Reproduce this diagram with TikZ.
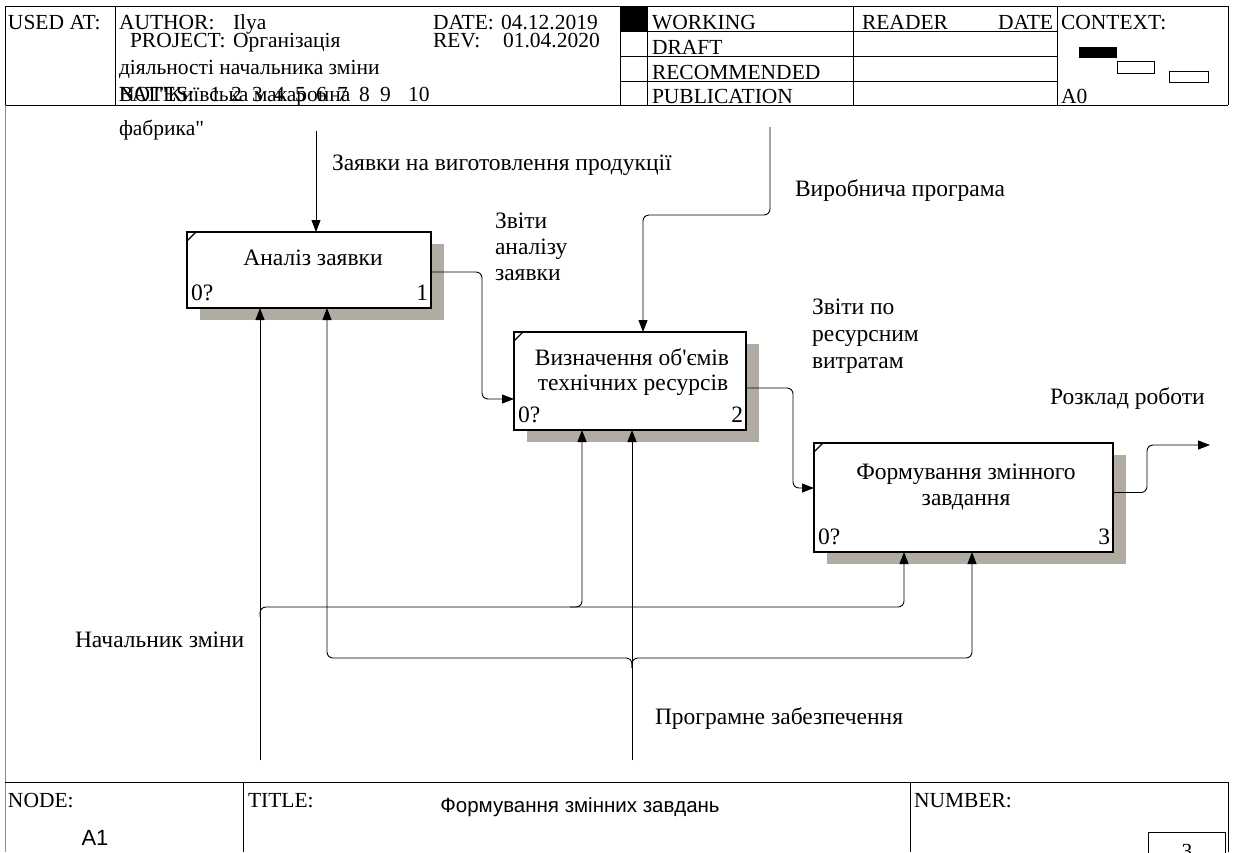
\documentclass[tikz,border=0pt]{standalone}
\usepackage{fontspec}
\setmainfont{Liberation Serif}[Ligatures=TeXOff]
\newfontfamily\arialfont{Liberation Sans}[Ligatures=TeXOff]
\usetikzlibrary{arrows.meta,shadows}

\definecolor{shade}{RGB}{176,172,164}
\definecolor{framegray}{RGB}{140,140,140}

\begin{document}
\begin{tikzpicture}[x=1pt,y=-1pt,
  every node/.style={inner sep=0pt, outer sep=0pt, font=\fontsize{23.5}{26}\selectfont},
  hdr/.style={font=\fontsize{21.5}{24}\selectfont},
  txt/.style={anchor=base west},
  ctxt/.style={anchor=base},
  rtxt/.style={anchor=base east},
  rule/.style={line width=0.9pt},
  box/.style={draw, line width=1.7pt, fill=white,
    general shadow={shadow xshift=13pt, shadow yshift=-12pt, fill=shade}},
  corner/.style={line width=1.3pt},
  conn/.style={line width=0.9pt, rounded corners=6pt},
  arr/.style={conn, -{Triangle[length=12pt,width=9pt]}}
]
\useasboundingbox (0,0) rectangle (1233,852);
\clip (0,0) rectangle (1233,852);
\fill[white] (0,0) rectangle (1233,852);

% ---------- header frame ----------
\draw[rule] (5,6) -- (1228,6);
\draw[rule] (5,105) -- (1228,105);
\draw[rule] (5,6) -- (5,105);
\draw[rule] (1228,6) -- (1228,105);
\draw[rule] (115,6) -- (115,105);
\draw[rule] (620,6) -- (620,105);
\draw[rule] (647,6) -- (647,105);
\draw[rule] (853,6) -- (853,105);
\draw[rule] (1057,6) -- (1057,105);
\draw[rule] (620,31) -- (1057,31);
\draw[rule] (620,56) -- (1057,56);
\draw[rule] (620,81) -- (1057,81);
\fill (620,6) rectangle (647,31);

% context thumbnails
\fill (1079,47) rectangle (1117,58);
\draw[line width=0.8pt] (1117,61) rectangle (1154,73);
\draw[line width=0.8pt] (1169,71) rectangle (1208,82);

% header texts
\begin{scope}[every node/.append style={hdr}]
\node[txt] (usedat) at (8,29) {USED AT:};
\node[txt] (author) at (119,29) {AUTHOR:};
\node[txt] (authorv) at (233,29) {Ilya};
\node[txt] (project) at (130,47) {PROJECT:};
\node[txt] (projectv) at (233,47) {Організація};
\node[txt] (project2) at (119,74) {діяльності начальника зміни};
\node[txt] (notes) at (119,101) {NOTES:};
\foreach \d/\xx in {1/210,2/231,3/252,4/274,5/295,6/316,7/337,8/359,9/380,10/408}
  \node[txt] (note\d) at (\xx,101) {\d};
\node[txt] (project3) at (119,101) {ВАТ"Київська макаронна};
\node[txt] (project4) at (119,135) {фабрика"};
\node[txt] (date) at (433,29) {DATE:};
\node[txt] (datev) at (501,29) {04.12.2019};
\node[txt] (rev) at (433,47) {REV:};
\node[txt] (revv) at (503,47) {01.04.2020};
\node[txt] (working) at (652,29) {WORKING};
\node[txt] (draft) at (652,54) {DRAFT};
\node[txt] (recom) at (652,79) {RECOMMENDED};
\node[txt] (publ) at (652,103) {PUBLICATION};
\node[txt] (reader) at (862,29) {READER};
\node[rtxt] (rdate) at (1053,29) {DATE};
\node[txt] (context) at (1061,29) {CONTEXT:};
\node[txt] (a0) at (1061,103) {A0};
\end{scope}

% ---------- body frame ----------
\draw[rule, framegray] (5,105) -- (5,852);

% ---------- activity boxes ----------
\node[box, minimum width=244pt, minimum height=76pt] (b1) at (309,270) {};
\node[box, minimum width=232pt, minimum height=98pt] (b2) at (630,381) {};
\node[box, minimum width=299pt, minimum height=109pt] (b3) at (963.5,497.5) {};
\foreach \b in {b1,b2,b3}
  \draw[corner] ([yshift=-9pt]\b.north west) -- ([xshift=9pt]\b.north west);

\node[ctxt] (t1) at (313,265) {Аналіз заявки};
\node[txt] (z1) at (191,300) {0?};
\node[rtxt] (n1) at (428,300) {1};

\node[ctxt] (t2a) at (632,365) {Визначення об'ємів};
\node[ctxt] (t2b) at (633,390) {технічних ресурсів};
\node[txt] (z2) at (518,422) {0?};
\node[rtxt] (n2) at (743,422) {2};

\node[ctxt] (t3a) at (966,479) {Формування змінного};
\node[ctxt] (t3b) at (966,505) {завдання};
\node[txt] (z3) at (818,544) {0?};
\node[rtxt] (n3) at (1110,544) {3};

% ---------- arrow labels ----------
\node[txt] (l1) at (332,170) {Заявки на виготовлення продукції};
\node[txt] (l2) at (795,196) {Виробнича програма};
\node[txt] (l3a) at (495,228) {Звіти};
\node[txt] (l3b) at (495,254) {аналізу};
\node[txt] (l3c) at (495,280) {заявки};
\node[txt] (l4a) at (812,314) {Звіти по};
\node[txt] (l4b) at (812,341) {ресурсним};
\node[txt] (l4c) at (812,368) {витратам};
\node[txt] (l5) at (1050,404) {Розклад роботи};
\node[txt] (l6) at (75,647) {Начальник зміни};
\node[txt] (l7) at (655,724) {Програмне забезпечення};

% ---------- connectors ----------
% inputs and controls from the top
\coordinate (in1) at (316,131);
\draw[arr] (in1) -- (in1 |- b1.north);
\coordinate (in2) at (770,127);
\coordinate (c2) at (643,215);
\draw[arr] (in2) |- (c2) -- (c2 |- b2.north);

% box to box
\coordinate (j1) at (482,399);
\draw[arr] ([yshift=-2pt]b1.east) -| (j1) -- (j1 -| b2.west);
\coordinate (j2) at (793,488);
\draw[arr] ([yshift=-7pt]b2.east) -| (j2) -- (j2 -| b3.west);

% output
\coordinate (k3) at (1147,445);
\coordinate (out3) at (1210,445);
\draw[arr] ([yshift=5pt]b3.east) -| (k3) -- (out3);

% mechanism: Начальник зміни
\coordinate (m1) at (260,760);
\draw[arr] (m1) -- (m1 |- b1.south);
\coordinate (f1) at (260,607);
\coordinate (c3a) at (904,607);
\coordinate (c2a) at (582,607);
\draw[arr] ([yshift=-10pt]f1) |- (c3a) -- (c3a |- b3.south);
\draw[arr] ([xshift=-12pt]c2a) -- (c2a) -- (c2a |- b2.south);

% mechanism: Програмне забезпечення
\coordinate (m2) at (632,760);
\draw[arr] (m2) -- (m2 |- b2.south);
\coordinate (f2) at (632,658);
\coordinate (c1b) at (327,658);
\coordinate (c3b) at (972,658);
\draw[arr] ([yshift=-10pt]f2) |- (c1b) -- (c1b |- b1.south);
\draw[arr] ([yshift=-10pt]f2) |- (c3b) -- (c3b |- b3.south);

% ---------- footer ----------
\draw[rule] (5,782) -- (1228,782);
\draw[rule] (243,782) -- (243,852);
\draw[rule] (910,782) -- (910,852);
\draw[rule] (1228,782) -- (1228,852);
\draw[rule] (1148,832) rectangle (1225,870);
\begin{scope}[every node/.append style={hdr}]
\node[txt] (nodelbl) at (8,807) {NODE:};
\node[txt] (titlelbl) at (248,807) {TITLE:};
\node[txt] (numlbl) at (914,807) {NUMBER:};
\node[ctxt] (numval) at (1187,858) {3};
\end{scope}
\node[ctxt, font=\arialfont\fontsize{22}{24}\selectfont] (nodeval) at (95,845) {A1};
\node[ctxt, font=\arialfont\fontsize{20.5}{24}\selectfont] (titleval) at (580,812) {Формування змінних завдань};
\end{tikzpicture}
\end{document}
